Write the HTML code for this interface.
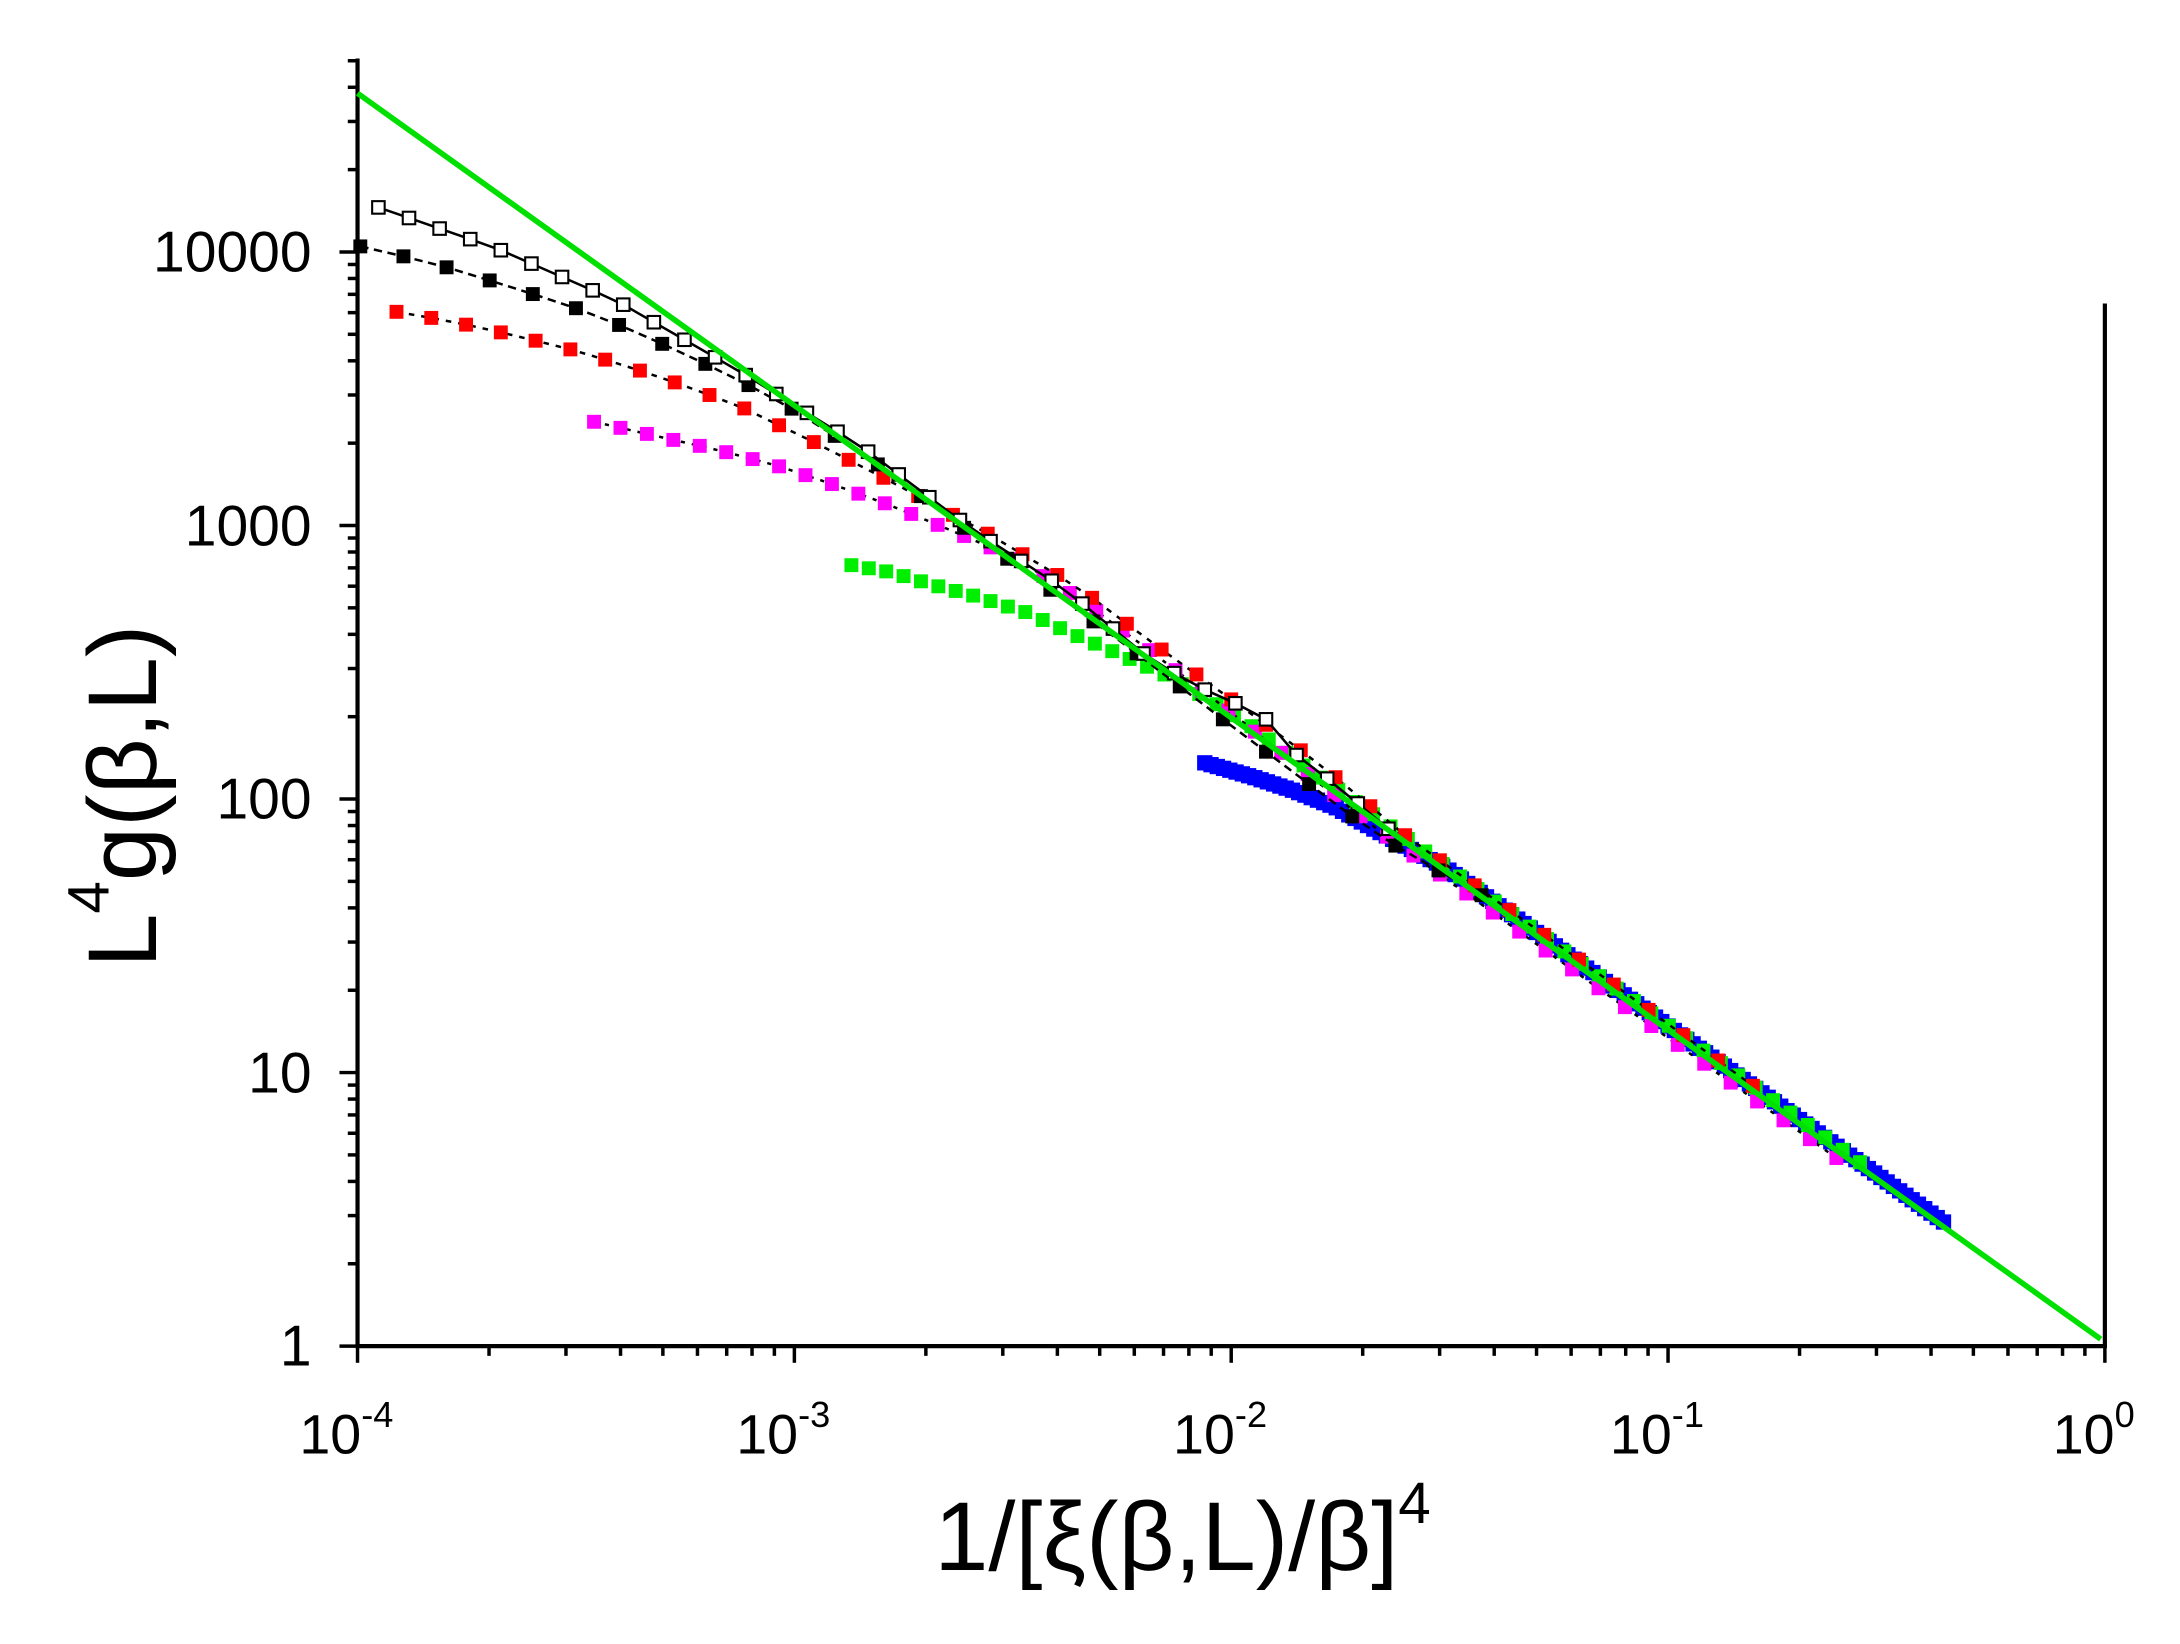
<!DOCTYPE html>
<html><head><meta charset="utf-8"><style>
html,body{margin:0;padding:0;background:#fff;}
svg{display:block;}
text{font-family:"Liberation Sans",Arial,sans-serif;}
</style></head><body>
<svg id="s" xmlns="http://www.w3.org/2000/svg" width="2180" height="1644" viewBox="0 0 1567 1181" preserveAspectRatio="none">
<rect width="1570" height="1190" fill="#fff"/>
<g id="ax" stroke="#000" stroke-width="3" fill="none">
<line x1="257" y1="42" x2="257" y2="968"/>
<line x1="255.5" y1="967" x2="1514.5" y2="967"/>
<line x1="1513" y1="218" x2="1513" y2="968"/>
</g>
<g id="ticks" stroke="#000" stroke-width="2.5"></g>
<g id="data"></g>
<line x1="257" y1="67" x2="1510" y2="962" stroke="#00e000" stroke-width="4"/>
<g font-size="41" text-anchor="end">
<text x="224" y="195">10000</text>
<text x="224" y="392">1000</text>
<text x="224" y="588">100</text>
<text x="224" y="785">10</text>
<text x="224" y="981">1</text>
</g>
<g font-size="40" text-anchor="middle" id="xl"></g>
<text x="850" y="1128" font-size="70" text-anchor="middle">1/[ξ(β,L)/β]<tspan font-size="42" dy="-34">4</tspan></text>
<text transform="translate(112,572) rotate(-90)" font-size="70" text-anchor="middle">L<tspan font-size="42" dy="-34">4</tspan><tspan dy="34">g(β,L)</tspan></text>
</svg>
<script>
var NS="http://www.w3.org/2000/svg";
function el(p,t,a){var e=document.createElementNS(NS,t);for(var k in a)e.setAttribute(k,a[k]);p.appendChild(e);return e;}
var tk=document.getElementById('ticks'),xl=document.getElementById('xl'),dg=document.getElementById('data');
var X0=257,DX=314,Y0=967,DY=196.5;
for(var d=0;d<4;d++)for(var m=1;m<10;m++){var x=X0+DX*(d+Math.log10(m));el(tk,'line',{x1:x,y1:967,x2:x,y2:m==1?979:974});}
el(tk,'line',{x1:1513,y1:967,x2:1513,y2:979});
for(var d=0;d<5;d++)for(var m=1;m<10;m++){if(d==4&&m>1)break;var y=Y0-DY*(d+Math.log10(m));if(y<42)break;el(tk,'line',{x1:257,y1:y,x2:m==1?244:250,y2:y});}
[2,3,4,5,6].forEach(function(m){var y=Y0-DY*(4+Math.log10(m));if(y>42)el(tk,'line',{x1:257,y1:y,x2:250,y2:y});});
var ex=['-4','-3','-2','-1','0'];
for(var i=0;i<5;i++){var t=el(xl,'text',{x:X0+DX*i-8,y:1044});t.textContent='10';var s=el(t,'tspan',{'font-size':'26',dy:'-19'});s.textContent=ex[i];}
function interp(pts,x){for(var i=0;i<pts.length-1;i++){if(x<=pts[i+1][0]){var a=pts[i],b=pts[i+1];return a[1]+(b[1]-a[1])*(x-a[0])/(b[0]-a[0]);}}return pts[pts.length-1][1];}
function series(pts,step,color,open,dash,sz){
  var xs=[];for(var x=pts[0][0];x<=pts[pts.length-1][0]+0.1;x+=step)xs.push(x);
  var P=xs.map(function(x){return [x,interp(pts,x)];});
  if(dash!==null){el(dg,'polyline',{points:P.map(function(p){return p.join(',')}).join(' '),fill:'none',stroke:'#000','stroke-width':1.8,'stroke-dasharray':dash});}
  P.forEach(function(p){if(open)el(dg,'rect',{x:p[0]-4.5,y:p[1]-4.5,width:9,height:9,fill:'#fff',stroke:'#000','stroke-width':1.5});else el(dg,'rect',{x:p[0]-sz/2,y:p[1]-sz/2,width:sz,height:sz,fill:color});});
}
series([[866,548],[900,558],[930,568],[960,580],[990,597],[1040,624],[1400,880]],4.5,'#0000ff',false,null,11);
series([[612,406],[640,411],[670,420],[700,428],[738,440],[770,455],[800,468],[838,485],[870,503],[900,522],[930,545],[960,566],[1000,594],[1100,666],[1340,837]],12.5,'#00ee00',false,null,10);
series([[427,303],[475,314],[515,323],[557,334],[596,347],[640,363],[686,382],[730,401],[780,433],[830,470],[880,508],[930,548],[990,596],[1050,639],[1100,675],[1250,782],[1330,839]],19,'#ff00ff',false,'3,5',10);
series([[285,224],[325,231],[370,241],[418,253],[472,270],[530,291],[590,320],[652,352],[713,385],[775,422],[830,463],[890,506],[950,550],[1010,600],[1060,636],[1150,700],[1260,780]],25,'#ff0000',false,'4,5',10);
series([[259,177],[311,189],[367,206],[428,226],[492,254],[557,286],[622,327],[690,377],[750,420],[810,464],[870,510],[930,555],[990,600],[1070,646]],31,'#000',false,'6,4',10);
series([[272,149],[356,178],[443,216],[532,267],[618,320],[700,381],[765,423],[830,476],[880,503],[905,510],[925,537],[960,564],[1000,597]],22,'#000',true,'',10);
</script>
</body></html>
